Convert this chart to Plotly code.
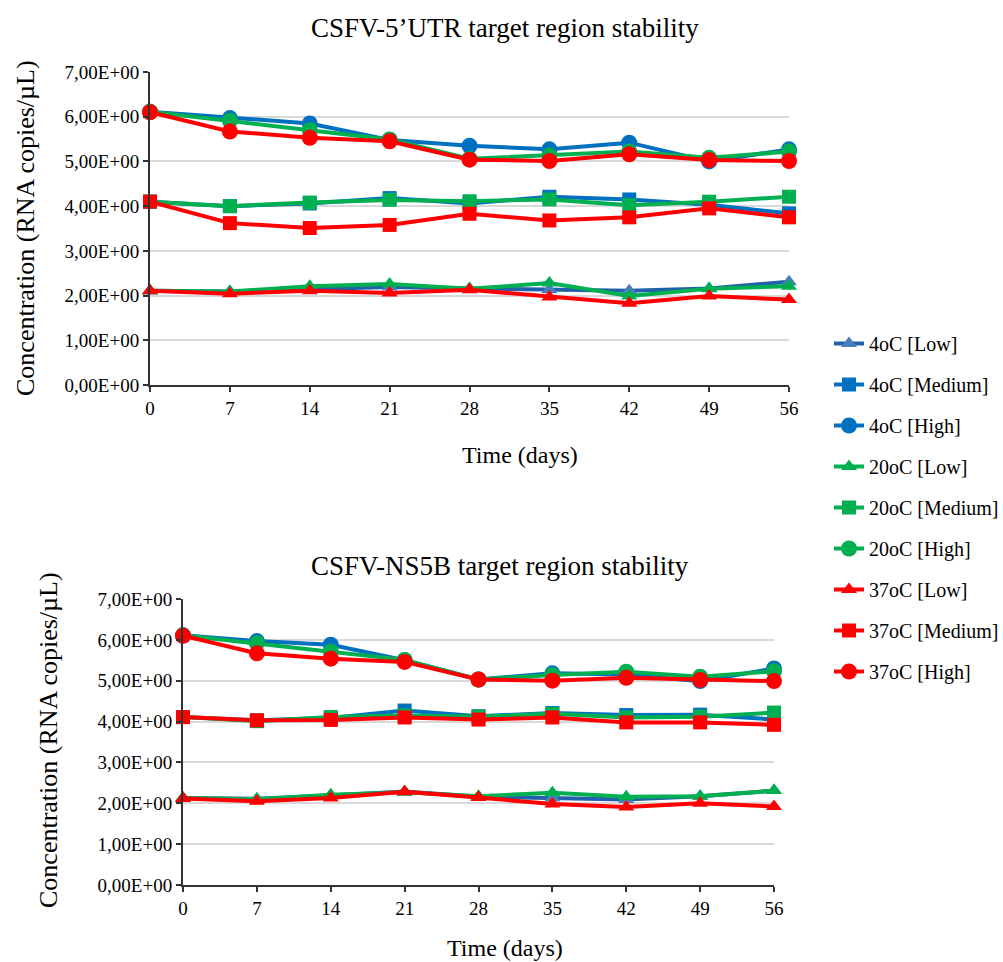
import plotly.graph_objects as go

days = [0, 7, 14, 21, 28, 35, 42, 49, 56]
ytick_vals = [0, 1, 2, 3, 4, 5, 6, 7]
ytick_text = ["0,00E+00", "1,00E+00", "2,00E+00", "3,00E+00", "4,00E+00",
              "5,00E+00", "6,00E+00", "7,00E+00"]
series_names = ["4oC [Low]", "4oC [Medium]", "4oC [High]",
                "20oC [Low]", "20oC [Medium]", "20oC [High]",
                "37oC [Low]", "37oC [Medium]", "37oC [High]"]

# CSFV-5'UTR
utr_4_low = [2.11, 2.09, 2.14, 2.19, 2.16, 2.13, 2.11, 2.16, 2.31]
utr_4_med = [4.10, 4.00, 4.06, 4.18, 4.06, 4.21, 4.15, 4.03, 3.84]
utr_4_high = [6.11, 5.97, 5.85, 5.48, 5.35, 5.27, 5.42, 5.00, 5.27]
utr_20_low = [2.11, 2.09, 2.21, 2.26, 2.15, 2.28, 1.99, 2.15, 2.21]
utr_20_med = [4.10, 4.00, 4.08, 4.14, 4.11, 4.15, 4.02, 4.10, 4.21]
utr_20_high = [6.11, 5.91, 5.70, 5.49, 5.06, 5.13, 5.22, 5.08, 5.22]
utr_37_low = [2.11, 2.04, 2.11, 2.06, 2.13, 1.97, 1.83, 1.99, 1.91]
utr_37_med = [4.10, 3.62, 3.51, 3.58, 3.83, 3.68, 3.75, 3.95, 3.75]
utr_37_high = [6.10, 5.67, 5.53, 5.45, 5.04, 5.01, 5.16, 5.03, 5.01]

# CSFV-NS5B
ns_4_low = [2.13, 2.11, 2.19, 2.29, 2.16, 2.13, 2.09, 2.17, 2.31]
ns_4_med = [4.11, 4.03, 4.09, 4.27, 4.13, 4.21, 4.16, 4.17, 4.05]
ns_4_high = [6.11, 5.97, 5.88, 5.50, 5.03, 5.18, 5.15, 4.99, 5.30]
ns_20_low = [2.13, 2.10, 2.21, 2.27, 2.17, 2.26, 2.16, 2.17, 2.31]
ns_20_med = [4.11, 4.01, 4.11, 4.15, 4.12, 4.19, 4.10, 4.12, 4.22]
ns_20_high = [6.11, 5.92, 5.71, 5.51, 5.03, 5.14, 5.22, 5.10, 5.23]
ns_37_low = [2.12, 2.05, 2.13, 2.28, 2.14, 1.98, 1.91, 2.00, 1.92]
ns_37_med = [4.11, 4.03, 4.04, 4.10, 4.05, 4.10, 3.98, 3.98, 3.92]
ns_37_high = [6.10, 5.67, 5.54, 5.46, 5.03, 5.00, 5.07, 5.02, 4.99]

utr_data = [utr_4_low, utr_4_med, utr_4_high, utr_20_low, utr_20_med, utr_20_high,
            utr_37_low, utr_37_med, utr_37_high]
ns_data = [ns_4_low, ns_4_med, ns_4_high, ns_20_low, ns_20_med, ns_20_high,
           ns_37_low, ns_37_med, ns_37_high]

line_colors = ["#2160AA", "#0070C0", "#0070C0",
               "#00B050", "#00B050", "#00B050",
               "#FF0000", "#FF0000", "#FF0000"]
marker_colors = ["#4A7EBB", "#0070C0", "#0070C0",
                 "#00B050", "#00B050", "#00B050",
                 "#FF0000", "#FF0000", "#FF0000"]
symbols = ["triangle-up", "square", "circle"] * 3
msizes = [14, 14, 16] * 3

FONT = "Times New Roman"
W, H = 1003, 962

fig = go.Figure()

for i in range(9):
    fig.add_trace(go.Scatter(
        x=days, y=utr_data[i], name=series_names[i], mode="lines+markers",
        line=dict(color=line_colors[i], width=4),
        marker=dict(symbol=symbols[i], size=msizes[i], color=marker_colors[i]),
        xaxis="x", yaxis="y", legendgroup=str(i), cliponaxis=False,
        showlegend=True))
for i in range(9):
    fig.add_trace(go.Scatter(
        x=days, y=ns_data[i], name=series_names[i], mode="lines+markers",
        line=dict(color=line_colors[i], width=4),
        marker=dict(symbol=symbols[i], size=msizes[i], color=marker_colors[i]),
        xaxis="x2", yaxis="y2", legendgroup=str(i), cliponaxis=False,
        showlegend=False))

def xaxis_cfg(dom, anchor):
    return dict(domain=dom, anchor=anchor, range=[0, 56], tickvals=days,
                ticks="outside", ticklen=5, tickwidth=2, tickcolor="#333",
                showline=True, linecolor="#333", linewidth=2,
                showgrid=False, zeroline=False, automargin=False,
                tickfont=dict(family=FONT, size=19, color="black"))

def yaxis_cfg(dom, anchor):
    return dict(domain=dom, anchor=anchor, range=[0, 7], tickvals=ytick_vals,
                ticktext=ytick_text, ticks="outside", ticklen=5, tickwidth=2,
                tickcolor="#333", showline=True, linecolor="#333", linewidth=2,
                showgrid=True, gridcolor="#D9D9D9", gridwidth=1.5,
                zeroline=False, automargin=False,
                tickfont=dict(family=FONT, size=19, color="black"))

fig.update_layout(
    width=W, height=H, margin=dict(l=0, r=0, t=0, b=0, autoexpand=False),
    paper_bgcolor="white", plot_bgcolor="white",
    xaxis=xaxis_cfg([150 / W, 789 / W], "y"),
    yaxis=yaxis_cfg([1 - 385 / H, 1 - 72 / H], "x"),
    xaxis2=xaxis_cfg([183 / W, 774 / W], "y2"),
    yaxis2=yaxis_cfg([1 - 885 / H, 1 - 599 / H], "x2"),
    legend=dict(x=829 / W, y=1 - 324 / H, xanchor="left", yanchor="top",
                font=dict(family=FONT, size=20, color="black"),
                tracegroupgap=12, bgcolor="rgba(0,0,0,0)"),
    showlegend=True,
)

annotations = [
    dict(text="CSFV-5’UTR target region stability", x=505 / W, y=1 - 28 / H,
         font=dict(size=27)),
    dict(text="CSFV-NS5B target region stability", x=500 / W, y=1 - 566 / H,
         font=dict(size=27)),
    dict(text="Time (days)", x=520 / W, y=1 - 455 / H, font=dict(size=24)),
    dict(text="Time (days)", x=505 / W, y=1 - 948 / H, font=dict(size=24)),
    dict(text="Concentration (RNA copies/µL)", x=25 / W, y=1 - 228 / H,
         textangle=-90, font=dict(size=26)),
    dict(text="Concentration (RNA copies/µL)", x=48 / W, y=1 - 740 / H,
         textangle=-90, font=dict(size=26)),
]
for a in annotations:
    a.update(xref="paper", yref="paper", xanchor="center", yanchor="middle",
             showarrow=False)
    a["font"].update(family=FONT, color="black")
fig.update_layout(annotations=annotations)

fig.write_html("out.html", config={"displayModeBar": False},
               post_script="document.body.style.margin='0';document.body.style.padding='0';")
